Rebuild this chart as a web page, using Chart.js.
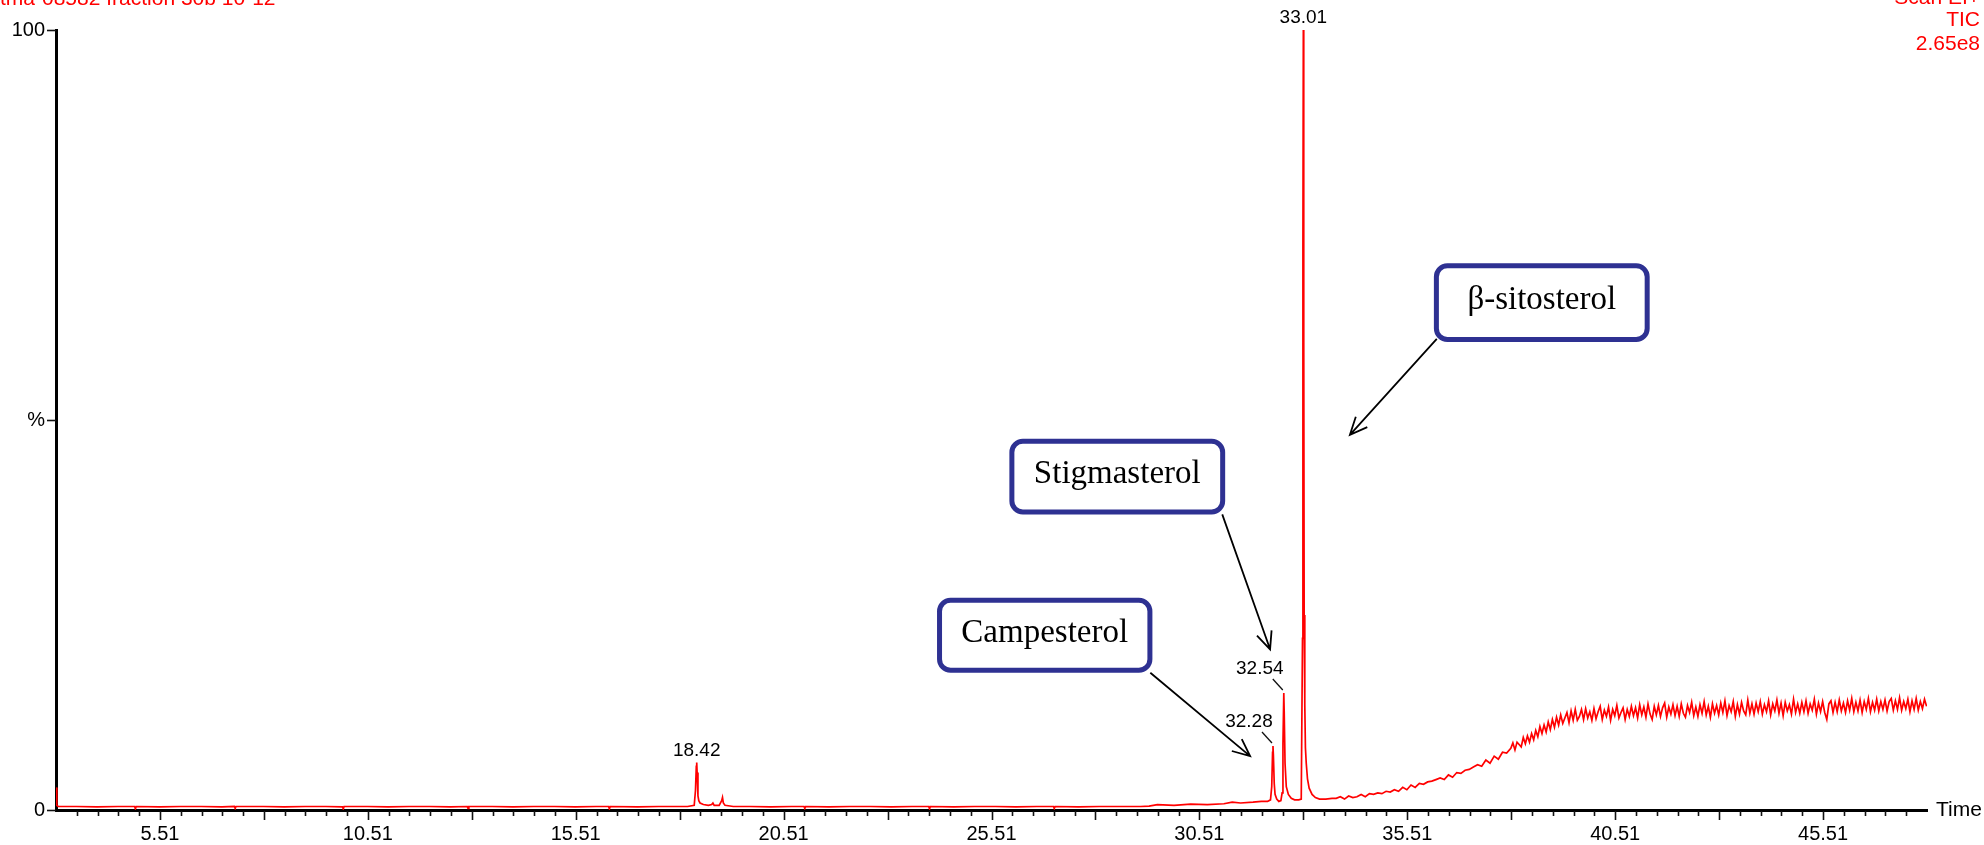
<!DOCTYPE html>
<html>
<head>
<meta charset="utf-8">
<title>TIC chromatogram</title>
<script src="https://cdn.jsdelivr.net/npm/chart.js@4.4.1/dist/chart.umd.min.js"></script>
<style>
  html, body { margin: 0; padding: 0; background: #ffffff; }
  #wrap { position: relative; width: 1984px; height: 845px; overflow: hidden; }
  canvas { display: block; }
</style>
</head>
<body>
<div id="wrap"><canvas id="tic" width="1984" height="845"></canvas></div>
<script>
// Retention time (min) of each plotted scan
const scanTimes = [
  // solvent front and early baseline
  3.01, 3.03, 3.06, 3.5, 4.0, 4.5, 4.9, 4.92, 4.94, 5.5, 6.0, 6.5, 7.0, 7.3, 7.32, 7.34, 8.0, 8.5, 9.0, 9.5,
  9.9, 9.92, 9.94, 10.5, 11.0, 11.5, 12.0, 12.5, 12.9, 12.92, 12.94, 13.5, 14.0, 14.5, 15.0, 15.5, 16.0, 16.3, 16.32, 16.34,
  17.0, 17.5, 18.0, 18.2,
  // peak at 18.42
  18.36, 18.39, 18.41, 18.42, 18.43, 18.45, 18.47, 18.50, 18.58, 18.70, 18.78, 18.81, 18.84, 18.96, 19.02, 19.04, 19.06, 19.10, 19.30,
  // mid-run baseline
  19.7, 20.2, 20.7, 21.0, 21.02, 21.04, 21.6, 22.1, 22.6, 23.1, 23.6, 24.0, 24.02, 24.04, 24.6, 25.1, 25.6, 26.1, 26.6, 27.0,
  27.02, 27.04, 27.6, 28.1, 28.6, 29.1, 29.3,
  // sterol region
  29.5, 29.9, 30.3, 30.7, 31.1, 31.3, 31.5, 31.8, 32.0, 32.15, 32.22, 32.25, 32.27, 32.28, 32.29, 32.31, 32.33, 32.37, 32.42, 32.47,
  32.50, 32.52, 32.54, 32.55, 32.57, 32.60, 32.65, 32.72, 32.80, 32.90, 32.96, 32.99, 33.00, 33.01, 33.02, 33.03, 33.04, 33.05, 33.06, 33.08,
  33.11, 33.15, 33.22, 33.30, 33.40, 33.55, 33.70,
  // column bleed rise
  33.8, 33.9, 34.0, 34.1, 34.2, 34.3, 34.4, 34.5, 34.6, 34.7, 34.8, 34.9, 35.0, 35.1, 35.2, 35.3, 35.4, 35.5, 35.6, 35.7,
  35.8, 35.9, 36.0, 36.1, 36.2, 36.3, 36.4, 36.5, 36.6, 36.7, 36.8, 36.9, 37.0, 37.1, 37.2, 37.3, 37.4, 37.5, 37.6, 37.7,
  37.8, 37.9,
  // bleed plateau
  38.00, 38.05, 38.10, 38.15, 38.20, 38.25, 38.30, 38.35, 38.40, 38.45, 38.50, 38.55, 38.60, 38.65, 38.70, 38.75, 38.80, 38.85, 38.90, 38.95,
  39.00, 39.05, 39.10, 39.15, 39.20, 39.25, 39.30, 39.35, 39.40, 39.45, 39.50, 39.55, 39.60, 39.65, 39.70, 39.75, 39.80, 39.85, 39.90, 39.95,
  40.00, 40.05, 40.10, 40.15, 40.20, 40.25, 40.30, 40.35, 40.40, 40.45, 40.50, 40.55, 40.60, 40.65, 40.70, 40.75, 40.80, 40.85, 40.90, 40.95,
  41.00, 41.05, 41.10, 41.15, 41.20, 41.25, 41.30, 41.35, 41.40, 41.45, 41.50, 41.55, 41.60, 41.65, 41.70, 41.75, 41.80, 41.85, 41.90, 41.95,
  42.00, 42.05, 42.10, 42.15, 42.20, 42.25, 42.30, 42.35, 42.40, 42.45, 42.50, 42.55, 42.60, 42.65, 42.70, 42.75, 42.80, 42.85, 42.90, 42.95,
  43.00, 43.05, 43.10, 43.15, 43.20, 43.25, 43.30, 43.35, 43.40, 43.45, 43.50, 43.55, 43.60, 43.65, 43.70, 43.75, 43.80, 43.85, 43.90, 43.95,
  44.00, 44.05, 44.10, 44.15, 44.20, 44.25, 44.30, 44.35, 44.40, 44.45, 44.50, 44.55, 44.60, 44.65, 44.70, 44.75, 44.80, 44.85, 44.90, 44.95,
  45.00, 45.05, 45.10, 45.15, 45.20, 45.25, 45.30, 45.35, 45.40, 45.45, 45.50, 45.55, 45.60, 45.65, 45.70, 45.75, 45.80, 45.85, 45.90, 45.95,
  46.00, 46.05, 46.10, 46.15, 46.20, 46.25, 46.30, 46.35, 46.40, 46.45, 46.50, 46.55, 46.60, 46.65, 46.70, 46.75, 46.80, 46.85, 46.90, 46.95,
  47.00, 47.05, 47.10, 47.15, 47.20, 47.25, 47.30, 47.35, 47.40, 47.45, 47.50, 47.55, 47.60, 47.65, 47.70, 47.75, 47.80, 47.85, 47.90, 47.95,
  48.00
];

// Relative abundance (%) of the total ion current at each scan
const relAbundance = [
  2.9, 0.6, 0.45, 0.45, 0.4, 0.45, 0.45, 0.15, 0.45, 0.4, 0.45, 0.45, 0.4, 0.45, 0.2, 0.45, 0.45, 0.4, 0.45, 0.45,
  0.4, 0.15, 0.45, 0.45, 0.4, 0.45, 0.45, 0.4, 0.45, 0.2, 0.45, 0.45, 0.4, 0.45, 0.45, 0.4, 0.45, 0.45, 0.15, 0.45,
  0.4, 0.45, 0.45, 0.45,
  0.6, 2.5, 5.6, 6.1, 4.8, 1.8, 1.2, 0.9, 0.7, 0.6, 0.7, 0.9, 0.6, 0.6, 1.2, 1.6, 0.9, 0.6, 0.45,
  0.45, 0.4, 0.45, 0.45, 0.2, 0.45, 0.4, 0.45, 0.45, 0.4, 0.45, 0.45, 0.15, 0.45, 0.4, 0.45, 0.45, 0.4, 0.45, 0.45,
  0.2, 0.45, 0.4, 0.45, 0.45, 0.45, 0.5,
  0.7, 0.6, 0.75, 0.7, 0.8, 1.0, 0.9, 1.0, 1.1, 1.1, 1.3, 3.0, 7.4, 8.2, 7.0, 3.4, 2.0, 1.4, 1.1, 1.2,
  2.2, 8.5, 15.0, 12.6, 6.0, 3.0, 2.0, 1.5, 1.3, 1.3, 1.4, 22, 72, 100, 60, 25, 14.5, 13.5, 8.0, 6.0,
  4.0, 2.8, 2.0, 1.6, 1.4, 1.4, 1.5,
  1.5, 1.7, 1.4, 1.8, 1.6, 1.7, 2.0, 1.7, 2.1, 2.0, 2.2, 2.1, 2.4, 2.3, 2.6, 2.4, 2.9, 2.6, 3.2, 2.9,
  3.4, 3.3, 3.6, 3.7, 3.9, 4.1, 3.9, 4.5, 4.2, 4.8, 4.7, 5.1, 5.2, 5.5, 5.8, 5.6, 6.4, 6.0, 6.9, 6.5,
  7.4, 7.3,
  7.9, 8.6, 7.7, 8.7, 8.4, 8.1, 9.3, 8.5, 9.5, 8.7, 9.8, 9.0, 10.2, 9.4, 10.7, 9.8, 10.9, 10.0, 11.3, 10.3,
  11.6, 10.6, 11.9, 10.9, 12.2, 11.1, 11.8, 12.5, 11.2, 12.7, 11.5, 12.9, 11.5, 12.0, 12.9, 11.6, 13.0, 11.8, 12.6, 11.5,
  13.0, 11.7, 12.6, 13.3, 11.6, 12.8, 12.0, 13.2, 11.5, 12.9, 12.1, 13.4, 11.8, 12.5, 13.1, 11.6, 12.9, 12.0, 13.3, 12.1,
  13.1, 11.8, 13.5, 12.2, 13.2, 11.9, 13.6, 12.3, 11.6, 13.3, 12.2, 13.4, 12.0, 13.1, 13.7, 11.9, 13.2, 12.3, 13.5, 12.1,
  13.3, 12.0, 13.6, 12.4, 11.9, 13.4, 12.5, 13.8, 12.1, 13.2, 12.0, 13.5, 12.4, 13.9, 12.2, 13.3, 11.9, 13.6, 12.4, 13.4,
  12.2, 13.7, 12.5, 14.0, 12.1, 13.4, 12.6, 13.9, 12.0, 13.5, 12.3, 13.8, 12.7, 12.2, 14.1, 12.4, 13.6, 12.3, 13.7, 12.6,
  13.9, 12.3, 13.5, 12.6, 14.0, 12.2, 13.6, 12.7, 14.1, 12.4, 13.7, 12.1, 13.8, 12.7, 13.5, 12.3, 14.2, 12.5, 13.6, 12.4,
  13.8, 12.6, 14.0, 12.4, 13.6, 12.8, 14.2, 12.3, 13.7, 12.6, 13.9, 12.5, 11.6, 13.6, 14.0, 12.5, 13.8, 12.6, 14.1, 12.7,
  13.7, 12.5, 14.0, 12.8, 14.3, 12.6, 13.8, 12.7, 14.1, 12.5, 13.9, 12.9, 14.3, 12.6, 13.8, 12.8, 14.2, 12.7, 13.9, 12.9,
  14.1, 12.7, 13.9, 14.3, 12.8, 14.0, 12.9, 14.4, 12.8, 13.9, 13.0, 14.2, 12.6, 14.0, 12.9, 14.3, 12.8, 13.9, 13.0, 14.2,
  13.3
];

// Labelled peaks (retention time in min)
const peakTimes  = [18.42, 32.28, 32.54, 33.01];
const peakLabels = ['18.42', '32.28', '32.54', '33.01'];

// Axis tick labels
const timeTickLabels = ['5.51', '10.51', '15.51', '20.51', '25.51', '30.51', '35.51', '40.51', '45.51'];
const pctTickValues  = [0, 50, 100];
const pctTickLabels  = ['0', '%', '100'];

// Compound call-outs: name, box corners (time / %), arrow start and tip (time / %)
const compoundNames = ['Campesterol', 'Stigmasterol', 'β-sitosterol'];
const calloutBoxes  = [[24.20, 29.38, 27.2, 17.6], [25.94, 31.13, 47.6, 37.9], [36.15, 41.34, 70.1, 60.0]];
const calloutArrows = [[29.33, 17.6, 31.73, 6.9], [31.06, 37.9, 32.21, 20.6], [36.22, 60.4, 34.13, 48.1]];

const SANS = '"Liberation Sans", Arial, sans-serif';
const SERIF = '"Liberation Serif", "Times New Roman", serif';

function drawArrow(ctx, x0, y0, x1, y1) {
  ctx.beginPath();
  ctx.moveTo(x0, y0);
  ctx.lineTo(x1, y1);
  const ang = Math.atan2(y1 - y0, x1 - x0);
  const len = 19, spread = 0.42;
  ctx.moveTo(x1 - len * Math.cos(ang - spread), y1 - len * Math.sin(ang - spread));
  ctx.lineTo(x1, y1);
  ctx.lineTo(x1 - len * Math.cos(ang + spread), y1 - len * Math.sin(ang + spread));
  ctx.stroke();
}

const chromatogramDecor = {
  id: 'chromatogramDecor',
  afterDraw(chart) {
    const { ctx, chartArea: area, scales: { x, y } } = chart;
    ctx.save();

    // time-axis ticks every 0.5 min, long ones every 2.5 min
    ctx.strokeStyle = '#111';
    ctx.lineWidth = 1.6;
    for (let k = 0; k <= 88; k++) {
      const t = 3.51 + k * 0.5;
      const px = Math.round(x.getPixelForValue(t)) + 0.5;
      const len = (k % 5 === 4) ? 9 : 5;
      ctx.beginPath();
      ctx.moveTo(px, area.bottom + 1);
      ctx.lineTo(px, area.bottom + 1 + len);
      ctx.stroke();
    }
    // intensity-axis ticks
    pctTickValues.forEach(v => {
      const py = Math.round(y.getPixelForValue(v)) + 0.5;
      ctx.beginPath();
      ctx.moveTo(area.left - 9, py);
      ctx.lineTo(area.left, py);
      ctx.stroke();
    });

    // axis title
    ctx.fillStyle = '#000';
    ctx.font = '21px ' + SANS;
    ctx.textAlign = 'left';
    ctx.textBaseline = 'middle';
    ctx.fillText('Time', area.right + 9, area.bottom);

    // peak retention-time labels
    ctx.font = '19px ' + SANS;
    ctx.textAlign = 'center';
    ctx.textBaseline = 'middle';
    ctx.lineWidth = 1.3;
    peakTimes.forEach((t, i) => {
      const idx = scanTimes.indexOf(t);
      const px = x.getPixelForValue(t);
      const py = y.getPixelForValue(relAbundance[idx]);
      if (peakLabels[i] === '32.28' || peakLabels[i] === '32.54') {
        ctx.fillText(peakLabels[i], px - 24, py - 24);
        ctx.beginPath();
        ctx.moveTo(px - 11, py - 14);
        ctx.lineTo(px - 1, py - 3);
        ctx.stroke();
      } else {
        ctx.fillText(peakLabels[i], px, py - 12);
      }
    });

    // compound call-outs
    compoundNames.forEach((name, i) => {
      const [t0, t1, p0, p1] = calloutBoxes[i];
      const bx0 = x.getPixelForValue(t0), bx1 = x.getPixelForValue(t1);
      const by0 = y.getPixelForValue(p0), by1 = y.getPixelForValue(p1);
      const [a0, q0, a1, q1] = calloutArrows[i];
      ctx.strokeStyle = '#000';
      ctx.lineWidth = 1.8;
      drawArrow(ctx, x.getPixelForValue(a0), y.getPixelForValue(q0), x.getPixelForValue(a1), y.getPixelForValue(q1));

      ctx.beginPath();
      ctx.roundRect(bx0 + 2.5, by0 + 2.5, bx1 - bx0 - 5, by1 - by0 - 5, 11);
      ctx.fillStyle = '#fff';
      ctx.fill();
      ctx.lineWidth = 5;
      ctx.strokeStyle = '#2e3192';
      ctx.stroke();

      ctx.fillStyle = '#000';
      ctx.font = '33px ' + SERIF;
      ctx.textAlign = 'center';
      ctx.textBaseline = 'middle';
      ctx.fillText(name, (bx0 + bx1) / 2, (by0 + by1) / 2 - 2);
    });

    // acquisition header
    ctx.fillStyle = '#ff0000';
    ctx.font = '21px ' + SANS;
    ctx.textBaseline = 'alphabetic';
    ctx.textAlign = 'left';
    ctx.fillText('tma-08582 fraction 30b 10-12', 0, 5);
    ctx.textAlign = 'right';
    ctx.fillText('Scan EI+', 1980, 4);
    ctx.fillText('TIC', 1980, 26);
    ctx.fillText('2.65e8', 1980, 50);

    ctx.restore();
  }
};

new Chart(document.getElementById('tic'), {
  type: 'line',
  data: {
    datasets: [{
      data: scanTimes.map((t, i) => ({ x: t, y: relAbundance[i] })),
      borderColor: '#ff0000',
      borderWidth: 1.7,
      pointRadius: 0,
      tension: 0,
      fill: false
    }]
  },
  options: {
    responsive: false,
    animation: false,
    devicePixelRatio: 1,
    layout: { padding: { top: 30, right: 57, left: 0, bottom: 0 } },
    plugins: { legend: { display: false }, tooltip: { enabled: false } },
    scales: {
      x: {
        type: 'linear',
        min: 3.01,
        max: 48.01,
        afterBuildTicks: s => { s.ticks = timeTickLabels.map(v => ({ value: parseFloat(v) })); },
        afterFit: s => { s.height = 35; },
        ticks: {
          autoSkip: false,
          maxRotation: 0,
          padding: 12,
          color: '#000',
          font: { family: SANS, size: 20 },
          callback: (v, i) => timeTickLabels[i]
        },
        grid: { display: true, drawOnChartArea: false, drawTicks: false },
        border: { display: true, color: '#000', width: 3 }
      },
      y: {
        min: 0,
        max: 100,
        afterBuildTicks: s => { s.ticks = pctTickValues.map(v => ({ value: v })); },
        afterFit: s => { s.width = 56; },
        ticks: {
          padding: 11,
          color: '#000',
          font: { family: SANS, size: 20 },
          callback: (v, i) => pctTickLabels[i]
        },
        grid: { display: true, drawOnChartArea: false, drawTicks: false },
        border: { display: true, color: '#000', width: 3 }
      }
    }
  },
  plugins: [chromatogramDecor]
});
</script>
</body>
</html>
